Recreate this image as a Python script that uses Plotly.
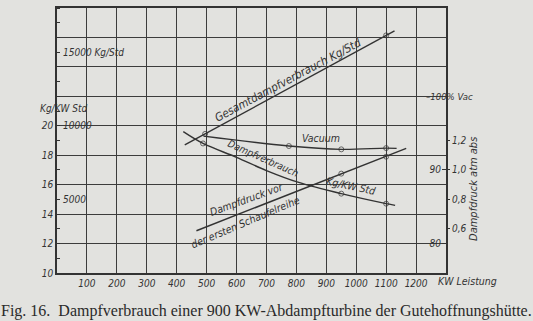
import plotly.graph_objects as go

# ---------------- data ----------------
x_ticks = [100, 200, 300, 400, 500, 600, 700, 800, 900, 1000, 1100, 1200]
left_ticks = [10, 12, 14, 16, 18, 20]          # Kg/KW Std
kg_ticks = [5000, 10000, 15000]                 # Kg/Std
kg_text = ["5000", "10000", "15000 Kg/Std"]
atm_ticks = [0.6, 0.8, 1.0, 1.2]                # atm abs
vac_ticks = [80, 90]                            # % Vac

# Gesamtdampfverbrauch Kg/Std
ges_kw = [427, 495, 1100, 1128]
ges_kg = [8700, 9450, 16140, 16450]
ges_mark = [0, 5, 5, 0]

# Vacuum %
vac_kw = [490, 775, 950, 1100, 1135]
vac_pct = [94.6, 93.25, 92.8, 92.97, 92.93]
vac_mark = [0, 5, 5, 5, 0]

# Dampfverbrauch Kg/KW Std
dv_kw = [422, 488, 600, 700, 805, 950, 1100, 1130]
dv_val = [19.6, 18.8, 17.86, 16.96, 16.17, 15.39, 14.71, 14.59]
dv_mark = [0, 5, 0, 0, 0, 5, 5, 0]

# Dampfdruck vor der ersten Schaufelreihe, atm abs
dd_kw = [466, 950, 1100, 1167]
dd_atm = [0.587, 0.975, 1.09, 1.147]
dd_mark = [0, 5, 5, 0]

# ---------------- styling ----------------
BG = "#e2e2df"
INK = "#333333"
GRID = "#3c3c3c"
HAND = "DejaVu Sans Condensed, DejaVu Sans, sans-serif"
SERIF = "Liberation Serif, Times New Roman, serif"

# scale links: left axis L (10..28)
L_RANGE = [10, 28]
KG_RANGE = [0, 18000]            # 1000 Kg/Std per unit, 10000 at L=20
ATM_RANGE = [0.3, 2.1]           # L = 10*p + 7
VAC_RANGE = [76, 112]            # L = 22 + (v-100)/2

fig = go.Figure()

line_style = dict(color=INK, width=1.4)
mk = dict(symbol="circle-open", color=INK, line=dict(width=1, color=INK))

fig.add_trace(go.Scatter(x=ges_kw, y=ges_kg, yaxis="y2", mode="lines+markers",
                         line=line_style, marker=dict(size=ges_mark, **mk),
                         hoverinfo="skip", showlegend=False))
fig.add_trace(go.Scatter(x=vac_kw, y=vac_pct, yaxis="y4", mode="lines+markers",
                         line=dict(shape="spline", **line_style),
                         marker=dict(size=vac_mark, **mk),
                         hoverinfo="skip", showlegend=False))
fig.add_trace(go.Scatter(x=dv_kw, y=dv_val, yaxis="y", mode="lines+markers",
                         line=dict(shape="spline", **line_style),
                         marker=dict(size=dv_mark, **mk),
                         hoverinfo="skip", showlegend=False))
fig.add_trace(go.Scatter(x=dd_kw, y=dd_atm, yaxis="y3", mode="lines+markers",
                         line=line_style, marker=dict(size=dd_mark, **mk),
                         hoverinfo="skip", showlegend=False))

tick_font = dict(family=HAND, size=10, color=INK, style="italic")

fig.update_layout(
    width=533, height=321,
    margin=dict(l=57, r=87, t=6, b=48),
    paper_bgcolor=BG, plot_bgcolor=BG,
    font=dict(family=HAND, color=INK, style="italic"),
    xaxis=dict(range=[0, 1300], tickvals=x_ticks, ticktext=[str(v) for v in x_ticks],
               showgrid=True, gridcolor=GRID, gridwidth=1.2,
               showline=True, mirror=True, linecolor=INK, linewidth=1.5,
               ticks="", tickfont=tick_font, zeroline=False),
    yaxis=dict(range=L_RANGE,
               tickvals=list(range(10, 29, 2)),
               ticktext=[str(v) if v in left_ticks else "" for v in range(10, 29, 2)],
               showgrid=True, gridcolor=GRID, gridwidth=1.2,
               showline=True, mirror=True, linecolor=INK, linewidth=1.5,
               ticks="", tickfont=tick_font, zeroline=False,
               minor=dict(ticks="inside", ticklen=3, tickcolor=INK, dtick=1,
                          showgrid=False)),
    yaxis2=dict(range=KG_RANGE, overlaying="y", side="left", anchor="x",
                showticklabels=False, showgrid=False, showline=False,
                ticks="", zeroline=False),
    yaxis3=dict(range=ATM_RANGE, overlaying="y", side="right", anchor="x",
                tickvals=atm_ticks, ticktext=[f"{v:.1f}".replace(".", ",") for v in atm_ticks],
                showgrid=False, showline=False, ticks="outside", ticklen=3,
                tickcolor=INK, tickfont=tick_font, zeroline=False),
    yaxis4=dict(range=VAC_RANGE, overlaying="y", side="right", anchor="x",
                tickvals=vac_ticks, ticktext=[str(v) for v in vac_ticks],
                ticklabelposition="inside", showgrid=False, showline=False,
                ticks="inside", ticklen=4, tickcolor=INK,
                tickfont=tick_font, zeroline=False),
)

ann_font = dict(family=HAND, size=11, color=INK, style="italic")

def label(text, x, y, angle=0, size=11, xanchor="center", xref="x", yref="y", xshift=0):
    f = dict(ann_font)
    f["size"] = size
    fig.add_annotation(text=text, x=x, y=y, xref=xref, yref=yref, showarrow=False,
                       textangle=angle, font=f, xanchor=xanchor, yanchor="middle",
                       xshift=xshift)

# Kg/Std scale labels, placed inside the frame on the Kg/Std axis
for v, t in zip(kg_ticks, kg_text):
    label(t, 0, v, size=10, xanchor="left", xref="paper", yref="y2", xshift=4)

label("Gesamtdampfverbrauch Kg/Std", 771, 23.1, angle=-28, size=11.5)
label("Vacuum", 881, 19.2, size=10.5)
label("Dampfverbrauch", 690, 17.75, angle=24, size=10)
label("Kg/KW Std", 985, 15.9, angle=12, size=10.5)
label("Dampfdruck vor", 634, 15.0, angle=-20, size=10.5)
label("der ersten Schaufelreihe", 629, 13.45, angle=-23, size=10.5)
label("Kg/KW Std", 23, 21.15, size=10)
label("–100% Vac", 1228, 22.0, size=9.5, xanchor="left")
label("Dampfdruck atm abs", 1.07, 0.318, angle=-90, size=11, xref="paper", yref="paper")
label("KW Leistung", 1.054, -0.03, size=10.5, xref="paper", yref="paper")

fig.add_annotation(text="Fig. 16.  Dampfverbrauch einer 900 KW-Abdampfturbine der Gutehoffnungshütte.",
                   x=(266 - 57) / 389, y=(273 - 311) / 267, xref="paper", yref="paper",
                   showarrow=False,
                   font=dict(family=SERIF, size=16, color="#2a2a2a", style="normal"),
                   xanchor="center", yanchor="middle")

fig.write_html("out.html")
